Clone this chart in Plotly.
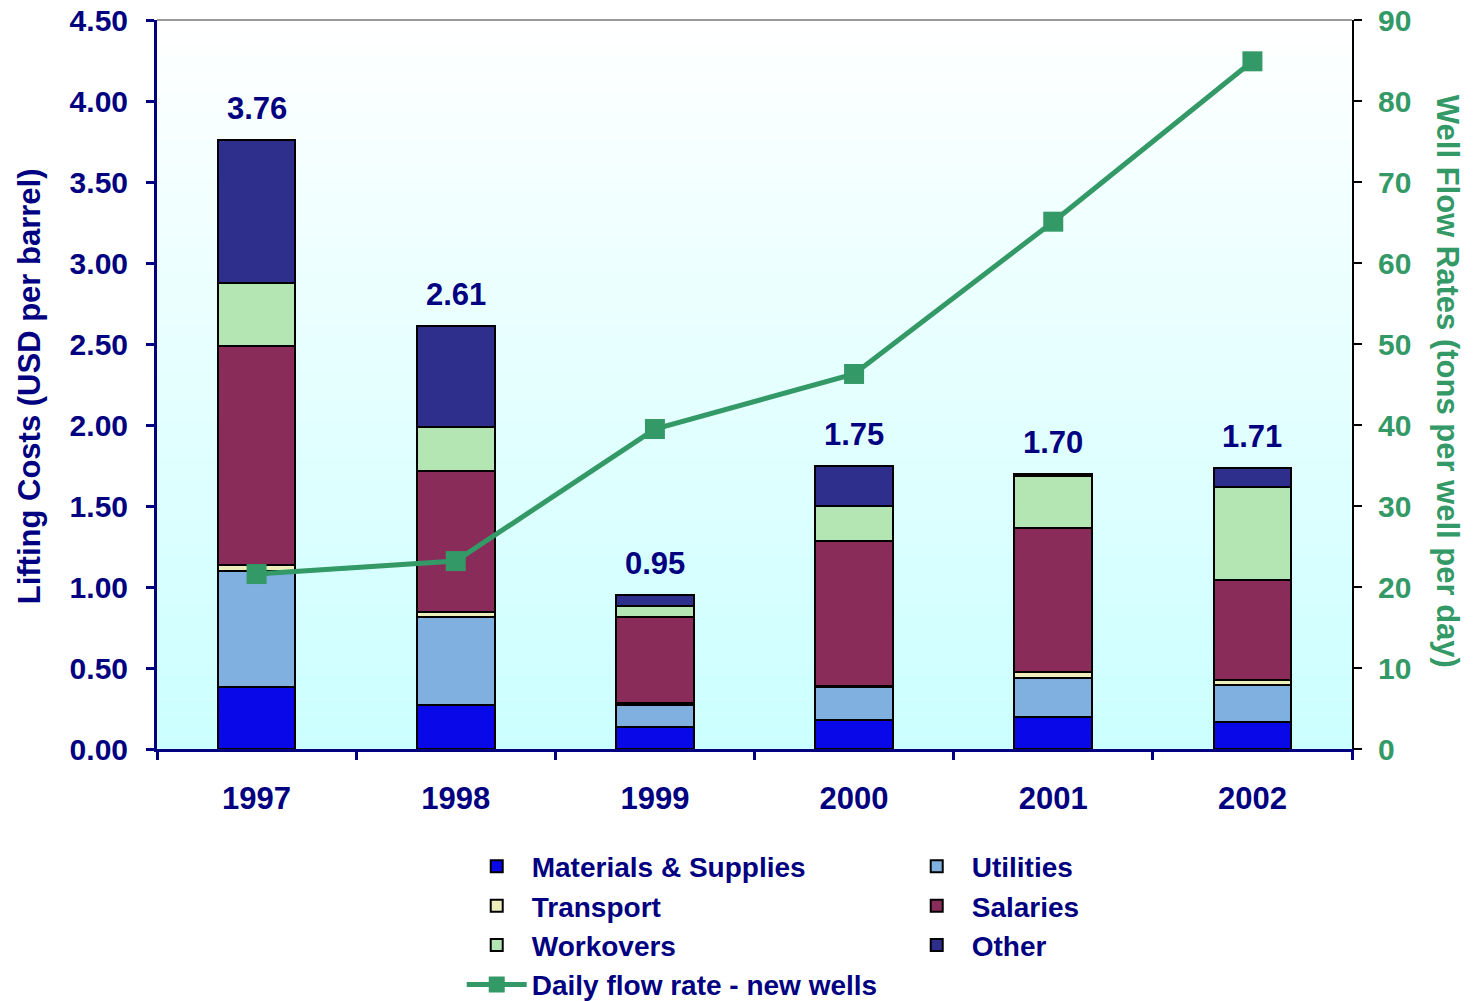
import plotly.graph_objects as go

years = ["1997", "1998", "1999", "2000", "2001", "2002"]
materials = [0.38, 0.27, 0.135, 0.18, 0.20, 0.165]
utilities = [0.72, 0.545, 0.135, 0.20, 0.24, 0.23]
transport = [0.035, 0.03, 0.015, 0.012, 0.037, 0.03]
salaries = [1.355, 0.87, 0.53, 0.895, 0.89, 0.618]
workovers = [0.385, 0.275, 0.068, 0.21, 0.32, 0.574]
other = [0.885, 0.62, 0.067, 0.253, 0.013, 0.118]
totals_text = ["3.76", "2.61", "0.95", "1.75", "1.70", "1.71"]
flow_rate = [21.6, 23.2, 39.5, 46.3, 65.1, 84.9]

NAVY = "#000080"
GREEN = "#339966"
FONT = "Liberation Sans, Arial, sans-serif"

series = [
    ("Materials & Supplies", materials, "#0808e8"),
    ("Utilities", utilities, "#80b0e0"),
    ("Transport", transport, "#eeeebb"),
    ("Salaries", salaries, "#8a2c5a"),
    ("Workovers", workovers, "#b4e6b4"),
    ("Other", other, "#2e2e8c"),
]

fig = go.Figure()
for name, vals, col in series:
    fig.add_trace(go.Bar(
        x=years, y=vals, name=name,
        marker=dict(color=col, line=dict(color="black", width=2)),
        yaxis="y",
    ))

fig.add_trace(go.Scatter(
    x=years, y=flow_rate, name="Daily flow rate - new wells",
    mode="lines+markers", yaxis="y2",
    line=dict(color=GREEN, width=5),
    marker=dict(symbol="square", size=20, color=GREEN),
))

# total labels (x given as category index)
stack_tops = [sum(v) for v in zip(materials, utilities, transport, salaries, workovers, other)]
for i, (top, txt) in enumerate(zip(stack_tops, totals_text)):
    fig.add_annotation(x=i, y=top, xref="x", yref="y", text=txt, showarrow=False,
                       yanchor="bottom", yshift=12,
                       font=dict(family=FONT, size=31, color=NAVY, weight="bold"))

# gradient background strips
shapes = []
n = 60
for i in range(n):
    t = i / (n - 1)
    r = int(204 + (255 - 204) * t)
    shapes.append(dict(type="rect", xref="paper", yref="paper",
                       x0=0, x1=1, y0=i / n, y1=(i + 1) / n,
                       fillcolor=f"rgb({r},255,255)", line=dict(width=0),
                       layer="below"))
shapes.append(dict(type="line", xref="paper", yref="paper", x0=0, x1=1, y0=1, y1=1,
                   line=dict(color="#999999", width=2)))
fig.update_layout(shapes=shapes)

fig.add_annotation(xref="paper", yref="paper", x=-0.106, y=0.498,
                   xanchor="center", yanchor="middle",
                   text="Lifting Costs (USD per barrel)", textangle=-90, showarrow=False,
                   font=dict(family=FONT, size=31, color=NAVY, weight="bold"))
fig.add_annotation(xref="paper", yref="paper", x=1.0795, y=0.505,
                   xanchor="center", yanchor="middle",
                   text="Well Flow Rates (tons per well per day)", textangle=90, showarrow=False,
                   font=dict(family=FONT, size=31, color=GREEN, weight="bold"))

fig.update_layout(
    width=1479, height=1001,
    margin=dict(l=157, r=127, t=20, b=252, autoexpand=False),
    paper_bgcolor="white", plot_bgcolor="#e6ffff",
    barmode="stack", bargap=0.61,
    font=dict(family=FONT, color=NAVY),
    xaxis=dict(
        type="category", range=[-0.5, 5.5], automargin=False, tickangle=0,
        showline=True, linecolor=NAVY, linewidth=3,
        ticks="outside", tickcolor=NAVY, ticklen=8, tickwidth=3,
        tickson="boundaries", ticklabelstandoff=20,
        tickfont=dict(family=FONT, size=31, color=NAVY, weight="bold"),
        showgrid=False,
    ),
    yaxis=dict(
        range=[0, 4.5], dtick=0.5, tickformat=".2f", automargin=False,
        showline=True, linecolor=NAVY, linewidth=3,
        ticks="outside", tickcolor=NAVY, ticklen=8, tickwidth=3,
        ticklabelstandoff=12,
        tickfont=dict(family=FONT, size=30, color=NAVY, weight="bold"),
        showgrid=False, zeroline=False,
    ),
    yaxis2=dict(
        range=[0, 90], dtick=10, overlaying="y", side="right", automargin=False,
        showline=True, linecolor="black", linewidth=2,
        ticks="outside", tickcolor="black", ticklen=8, tickwidth=2,
        ticklabelstandoff=10,
        tickfont=dict(family=FONT, size=30, color=GREEN, weight="bold"),
        showgrid=False, zeroline=False,
    ),
    legend=dict(
        orientation="h", x=0.255, y=-0.127, xanchor="left", yanchor="top",
        entrywidth=365, entrywidthmode="pixels", traceorder="normal",
        font=dict(family=FONT, size=28, color=NAVY, weight="bold"),
        bgcolor="rgba(0,0,0,0)", tracegroupgap=0, itemwidth=60,
    ),
)

fig.write_html("out.html")
